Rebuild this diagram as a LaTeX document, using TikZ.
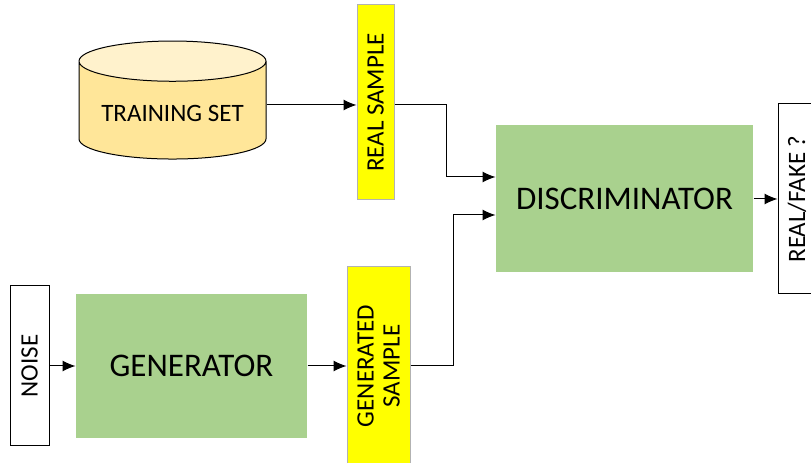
\documentclass[tikz,border=0pt]{standalone}
\usepackage{fontspec}
\setmainfont{Carlito}
\usetikzlibrary{arrows.meta, shapes.geometric, positioning}

\definecolor{netgreen}{HTML}{A9D18E}
\definecolor{sampleyellow}{HTML}{FFFF00}
\definecolor{dbbody}{HTML}{FFE699}
\definecolor{dbtop}{HTML}{FFF2CC}

\begin{document}
\begin{tikzpicture}[x=1pt, y=1pt, line width=1pt,
		>={Latex[length=13pt, width=11pt]},
		netbox/.style={fill=netgreen, inner sep=0pt, font=\fontsize{33}{37}\selectfont},
		samplebox/.style={draw=black!30, fill=sampleyellow, rotate=90, inner sep=0pt, align=center, font=\fontsize{25}{26}\selectfont},
		iobox/.style={draw, fill=white, rotate=90, inner sep=0pt, font=\fontsize{25}{27}\selectfont}]
		
		\clip (0,0) rectangle (811,463);
		
		\node[iobox, minimum width=160pt, minimum height=39pt] (noise) at (29.5,97) {NOISE};
		\node[netbox, minimum width=231pt, minimum height=144pt] (gen) at (191.5,97) {GENERATOR};
		\node[samplebox, minimum width=198pt, minimum height=63pt] (gsample) at (378.5,97) {GENERATED\\SAMPLE};
		
		\node[cylinder, shape border rotate=90, draw, aspect=0.27, minimum width=187pt, minimum height=118pt,
		cylinder uses custom fill, cylinder body fill=dbbody, cylinder end fill=dbtop,
		font=\fontsize{25}{27}\selectfont] (train) at (172.5,350) {TRAINING SET};
		\node[samplebox, minimum width=195pt, minimum height=37pt] (rsample) at (375.5,360.5) {REAL SAMPLE};
		
		\node[netbox, minimum width=257pt, minimum height=147pt] (disc) at (624.5,264) {DISCRIMINATOR};
		\node[iobox, minimum width=190pt, minimum height=38pt] (rf) at (797,264) {REAL/FAKE ?};
		
		\draw[->] (noise) -- (gen);
		\draw[->] (gen) -- (gen -| gsample.north);
		\draw[->] ([yshift=8pt]train.east) -- ([yshift=8pt]train.east -| rsample.north);
		\draw[->] ([yshift=8pt]rsample.south |- train) -- ++(52,0) |- ([yshift=22pt]disc.west);
		\draw[->] (gsample.south |- gen) -- ++(43,0) |- ([yshift=-16pt]disc.west);
		\draw[->] (disc) -- (rf);
		\end{tikzpicture}
\end{document}
